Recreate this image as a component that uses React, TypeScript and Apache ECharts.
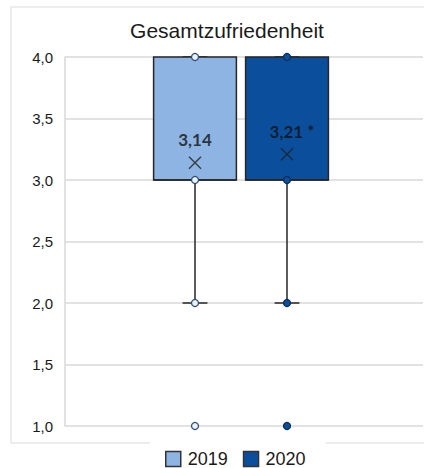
import React, { useEffect, useRef } from "react";
import * as echarts from "echarts";

// Survey years shown side by side
const years = ["2019", "2020"];
// Box statistics per year: [min, Q1, median, Q3, max]
const boxStats2019 = [2, 3, 3, 4, 4];
const boxStats2020 = [2, 3, 3, 4, 4];
// Individual data points drawn over each box (including the outlier at 1,0)
const points2019 = [4, 3, 2, 1];
const points2020 = [4, 3, 2, 1];
// Mean values and significance flags
const means = [3.14, 3.21];
const significance = ["", " *"];
// Y axis range
const yMin = 1;
const yMax = 4;
const yStep = 0.5;

const boxFill = ["#8db4e2", "#0b4f9c"];
const pointFill = ["#e9f1fb", "#0b4f9c"];
const pointBorder = ["#2f4f75", "#0a2d55"];
const edge = "#262626";

const fmt = (v: number, digits: number) => v.toFixed(digits).replace(".", ",");

export default function App() {
  const ref = useRef<HTMLDivElement>(null);

  useEffect(() => {
    if (!ref.current) return;
    const chart = echarts.init(ref.current, undefined, { renderer: "svg" });

    const boxData = [boxStats2019, boxStats2020].map((s, i) => [i, ...s]);

    const option: any = {
      animation: false,
      backgroundColor: "#fff",
      title: {
        text: "Gesamtzufriedenheit",
        left: 222,
        textAlign: "center",
        top: 15,
        textStyle: {
          fontFamily: "Liberation Sans, Arial, sans-serif",
          fontSize: 21,
          fontWeight: "normal",
          color: "#1a1a1a",
        },
      },
      graphic: [
        {
          type: "polyline",
          z: -10,
          silent: true,
          shape: { points: [[424, 7], [11, 7], [11, 443], [424, 443]] },
          style: { fill: "none", stroke: "#e8e8e8", lineWidth: 1.5 },
        },
      ],
      legend: {
        left: 150,
        top: 441,
        padding: [9, 20, 6, 15],
        backgroundColor: "#fff",
        itemWidth: 15,
        itemHeight: 15,
        itemGap: 15,
        textStyle: {
          fontFamily: "Liberation Sans, Arial, sans-serif",
          fontSize: 18,
          color: "#1a1a1a",
          padding: [0, 0, 0, 2],
        },
        data: years.map((y, i) => ({
          name: y,
          icon: "rect",
          itemStyle: { color: boxFill[i], borderColor: "#333", borderWidth: 1.5 },
        })),
      },
      grid: [
        { left: 65, right: 1, top: 57, bottom: 42 },
        { left: 149, width: 184, top: 57, bottom: 42 },
      ],
      xAxis: [
        { type: "category", gridIndex: 0, data: [""], show: false },
        { type: "category", gridIndex: 1, data: years, show: false },
      ],
      yAxis: [
        {
          type: "value",
          gridIndex: 0,
          min: yMin,
          max: yMax,
          interval: yStep,
          axisLine: { show: true, lineStyle: { color: "#d9d9d9", width: 1.5 } },
          axisTick: { show: false },
          splitLine: { lineStyle: { color: "#d9d9d9", width: 1.5 } },
          axisLabel: {
            margin: 12,
            fontFamily: "Liberation Sans, Arial, sans-serif",
            fontSize: 15,
            color: "#1a1a1a",
            formatter: (v: number) => fmt(v, 1),
          },
        },
        {
          type: "value",
          gridIndex: 1,
          min: yMin,
          max: yMax,
          interval: yStep,
          show: false,
          splitLine: { show: false },
        },
      ],
      series: [
        {
          type: "custom",
          name: "box",
          xAxisIndex: 1,
          yAxisIndex: 1,
          z: 2,
          encode: { x: 0, y: [1, 2, 3, 4, 5] },
          data: boxData,
          renderItem: (params: any, api: any) => {
            const idx = api.value(0);
            const lo = api.coord([idx, api.value(1)]);
            const q1 = api.coord([idx, api.value(2)]);
            const med = api.coord([idx, api.value(3)]);
            const q3 = api.coord([idx, api.value(4)]);
            const hi = api.coord([idx, api.value(5)]);
            const band = api.size([1, 0])[0];
            const bw = band * 0.9;
            const cap = band * 0.27;
            const cx = q1[0];
            const line = { stroke: edge, lineWidth: 1.5 };
            return {
              type: "group",
              children: [
                { type: "line", shape: { x1: cx, y1: q1[1], x2: cx, y2: lo[1] }, style: line },
                { type: "line", shape: { x1: cx, y1: q3[1], x2: cx, y2: hi[1] }, style: line },
                { type: "line", shape: { x1: cx - cap / 2, y1: lo[1], x2: cx + cap / 2, y2: lo[1] }, style: line },
                { type: "line", shape: { x1: cx - cap / 2, y1: hi[1], x2: cx + cap / 2, y2: hi[1] }, style: line },
                {
                  type: "rect",
                  shape: { x: cx - bw / 2, y: q3[1], width: bw, height: q1[1] - q3[1] },
                  style: { fill: boxFill[params.dataIndex], stroke: edge, lineWidth: 1.5 },
                },
                { type: "line", shape: { x1: cx - bw / 2, y1: med[1], x2: cx + bw / 2, y2: med[1] }, style: line },
              ],
            };
          },
        },
        ...[points2019, points2020].map((pts, i) => ({
          type: "scatter",
          name: years[i],
          xAxisIndex: 1,
          yAxisIndex: 1,
          z: 4,
          symbol: "circle",
          symbolSize: 7,
          itemStyle: { color: pointFill[i], borderColor: pointBorder[i], borderWidth: 1.3, opacity: 1 },
          data: pts.map((v) => [i, v]),
        })),
        {
          type: "scatter",
          name: "mean",
          xAxisIndex: 1,
          yAxisIndex: 1,
          z: 5,
          symbol: "path://M0,0 L10,10 M10,0 L0,10",
          symbolSize: 12,
          itemStyle: { color: "none", borderColor: "#1f1f1f", borderWidth: 1.4 },
          label: {
            show: true,
            position: "top",
            distance: 6,
            fontFamily: "Lato, sans-serif",
            fontWeight: "bold",
            fontSize: 17,
            color: "#111",
            formatter: (p: any) => fmt(means[p.dataIndex], 2) + significance[p.dataIndex],
          },
          labelLayout: (p: any) => ({ dx: significance[p.dataIndex] ? 5 : 0 }),
          data: means.map((m, i) => [i, m]),
        },
      ],
    };

    chart.setOption(option);
    return () => chart.dispose();
  }, []);

  return (
    <div
      ref={ref}
      style={{ position: "fixed", left: 0, top: 0, width: 424, height: 468 }}
    />
  );
}
